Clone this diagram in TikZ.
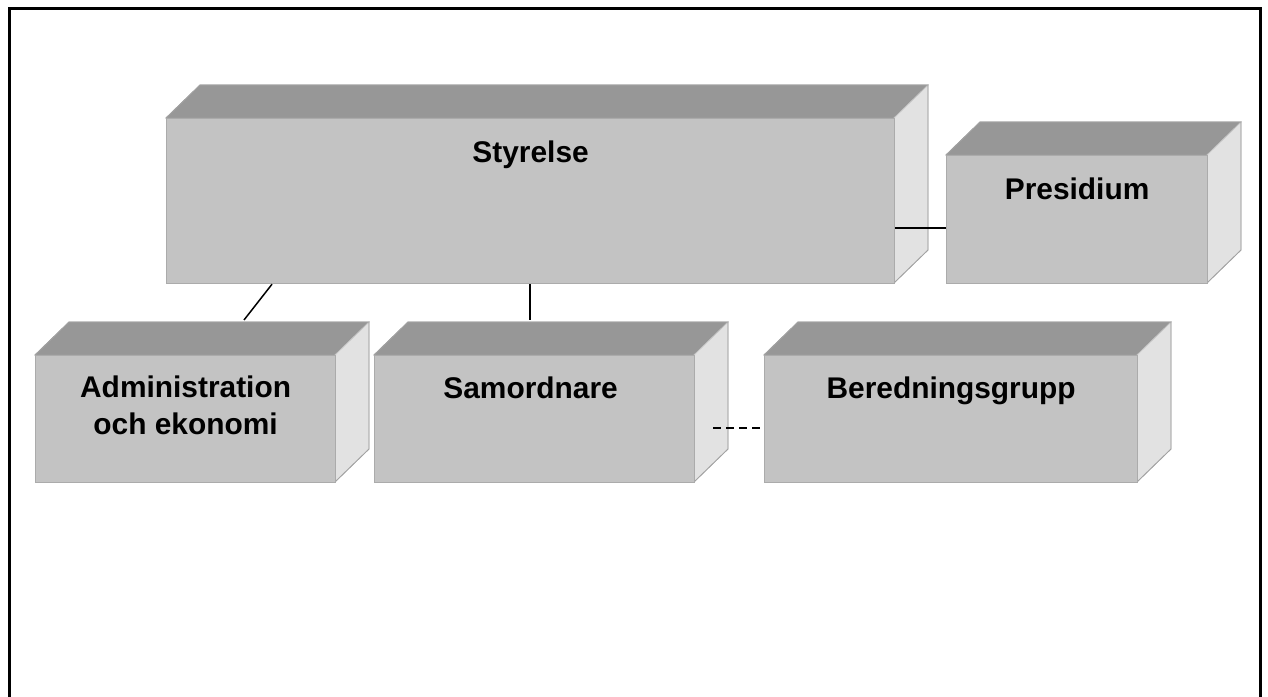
\documentclass[tikz,border=0pt]{standalone}
\usepackage{fontspec}
\setmainfont{Liberation Sans}
\usetikzlibrary{calc}
\definecolor{frontc}{HTML}{C3C3C3}
\definecolor{topc}{HTML}{979797}
\definecolor{sidec}{HTML}{E2E2E2}
\definecolor{edgec}{HTML}{ABABAB}
\tikzset{
  frontface/.style={rectangle, fill=frontc, draw=edgec, line width=1.2bp, inner sep=0pt, anchor=north west},
  topface/.style={fill=topc, draw=topc!90!white, line width=0.8bp},
  sideface/.style={fill=sidec, draw=edgec!70!white, line width=0.8bp},
  boxtext/.style={font=\bfseries\fontsize{30}{37}\selectfont, align=center, inner sep=0pt},
  conn/.style={line width=1.5bp, draw=black},
  dashconn/.style={conn, dash pattern=on 8bp off 5bp},
}
% #1 name, #2 x, #3 y (front top-left), #4 width, #5 height
\newcommand\cuboid[5]{%
  \fill[topface] (#2,#3) -- ++(34,-33) -- ++(#4,0) -- ++(-34,33) -- cycle;
  \fill[sideface] (#2+#4,#3) -- ++(34,-33) -- ++(0,#5) -- ++(-34,33) -- cycle;
  \draw[topface, fill=none] (#2,#3) -- ++(34,-33) -- ++(#4,0) -- ++(0,#5) -- ++(-34,33);
  \node[frontface, minimum width=#4bp, minimum height=#5bp] (#1) at (#2,#3) {};
}
\begin{document}
\begin{tikzpicture}[x=1bp,y=-1bp]
\useasboundingbox (0,0) rectangle (1268,697);
\fill[white] (0,0) rectangle (1268,697);
\draw[line width=3bp] (9,697) -- (9,9) -- (1260,9) -- (1260,697);

\cuboid{styr}{166}{118}{728}{165}
\cuboid{pres}{946}{155}{261}{128}
\cuboid{admin}{35}{355}{300}{127}
\cuboid{samo}{374}{355}{320}{127}
\cuboid{bered}{764}{355}{373}{127}

\node[boxtext, anchor=base] (styrt) at ($(styr.north)+(0,45)$) {Styrelse};
\node[boxtext, anchor=base] (prest) at ($(pres.north)+(0,45)$) {Presidium};
\node[boxtext, anchor=base] (samot) at ($(samo.north)+(-4,43)$) {Samordnare};
\node[boxtext, anchor=base] (beredt) at ($(bered.north)+(0,43)$) {Beredningsgrupp};
\node[boxtext, anchor=north] (admint) at ($(admin.north)+(0,21)$) {Administration\\och ekonomi};

\coordinate (adminin) at ($(admin.north west)+(209,-35)$);
\coordinate (samoin) at ($(samo.north west)+(156,-35)$);
\coordinate (samoout) at ($(samo.north east)+(18,73)$);

\draw[conn] (styr.east |- 0,228) -- (pres.west |- 0,228);
\draw[conn] ($(styr.south west)+(106,0)$) -- (adminin);
\draw[conn] (styr.south -| samoin) -- (samoin);
\draw[dashconn] (samoout) -- (bered.west |- samoout);
\end{tikzpicture}
\end{document}
